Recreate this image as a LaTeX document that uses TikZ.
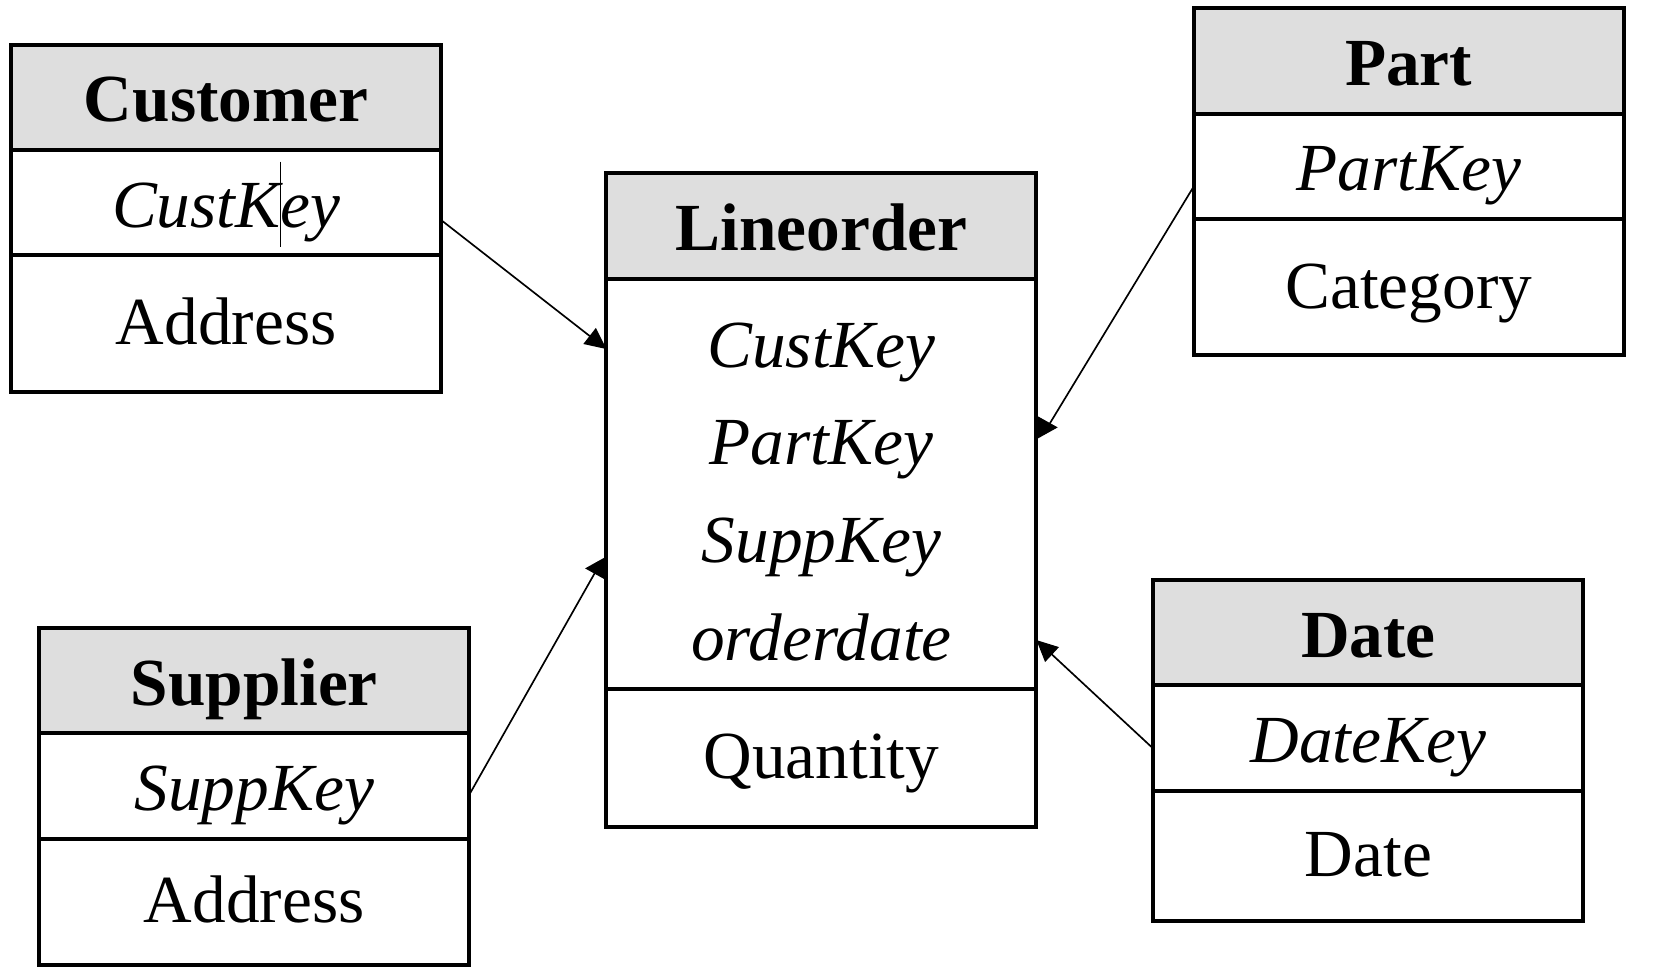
\documentclass[tikz,border=0pt]{standalone}
\usepackage{fontspec}
\setmainfont{Liberation Serif}
\usetikzlibrary{positioning,arrows.meta}
\definecolor{headgray}{RGB}{222,222,222}
\newcommand\cellfont{\fontsize{20.2}{24}\selectfont}
\tikzset{
  cell/.style={draw, line width=1.2pt, outer sep=0pt, inner sep=0pt, minimum width=129pt,
    text height=14.6pt, text depth=0pt, font=\cellfont},
  headcell/.style={cell, fill=headgray, minimum height=31.6pt, font=\cellfont\bfseries},
  keycell/.style={cell, minimum height=31.6pt, font=\cellfont\itshape},
  attrcell/.style={cell, minimum height=#1, text depth=2pt},
  link/.style={line width=0.5pt, -{Triangle[length=6.4pt,width=6pt]}},
  backlink/.style={line width=0.5pt, -{Triangle[reversed,length=6.4pt,width=7pt]}},
}
\begin{document}
\begin{tikzpicture}[x=0.3pt,y=-0.3pt]
\useasboundingbox (0,0) rectangle (1669,973);

% dimension tables
\node[headcell, anchor=north] (cust) at (226.1,44.7) {Customer};
\node[keycell, below=0pt of cust] (custkey) {CustKey};
\node[attrcell=40.9pt, below=0pt of custkey] (custaddr) {Address};

\node[headcell, anchor=north] (part) at (1408.7,8.5) {Part};
\node[keycell, below=0pt of part] (partkey) {PartKey};
\node[attrcell=40.9pt, below=0pt of partkey] (partcat) {Category};

\node[headcell, anchor=north] (supp) at (254.3,628) {Supplier};
\node[keycell, below=0pt of supp] (suppkey) {SuppKey};
\node[attrcell=37.9pt, below=0pt of suppkey] (suppaddr) {Address};

\node[headcell, anchor=north] (date) at (1368.3,580) {Date};
\node[keycell, below=0pt of date] (datekey) {DateKey};
\node[attrcell=39pt, below=0pt of datekey] (datedate) {Date};

% fact table
\node[headcell, anchor=north] (lo) at (821.4,173.4) {Lineorder};
\node[cell, minimum height=123pt, below=0pt of lo] (lokeys) {};
\foreach \k [count=\i] in {CustKey,PartKey,SuppKey,orderdate}
{
    \node[font=\cellfont\itshape, anchor=base, inner sep=0pt] (lk\i) at (821.4,{367.3+97.6*(\i-1)}) {\k};
}
\node[attrcell=41.5pt, below=0pt of lokeys] (loqty) {Quantity};

% links
\draw[link] ([yshift=-5.2pt]custkey.east) -- ([yshift=-21.1pt]lokeys.north west);
\draw[link] ([yshift=-3.2pt]datekey.west) -- ([yshift=-108.4pt]lokeys.north east);
\coordinate (pin) at ([yshift=-44.6pt]lokeys.north east);
\coordinate (sin) at ([yshift=-86.9pt]lokeys.north west);
\draw[backlink] ([yshift=-6pt]partkey.west) -- ([xshift=3.3pt]pin) -- (pin);
\draw[backlink] ([yshift=-2.6pt]suppkey.east) -- ([xshift=-2.7pt]sin) -- (sin);

\draw[line width=0.35pt] ([xshift=16.4pt,yshift=12.3pt]custkey.center) -- ++(0,-25.5pt);
\end{tikzpicture}
\end{document}
